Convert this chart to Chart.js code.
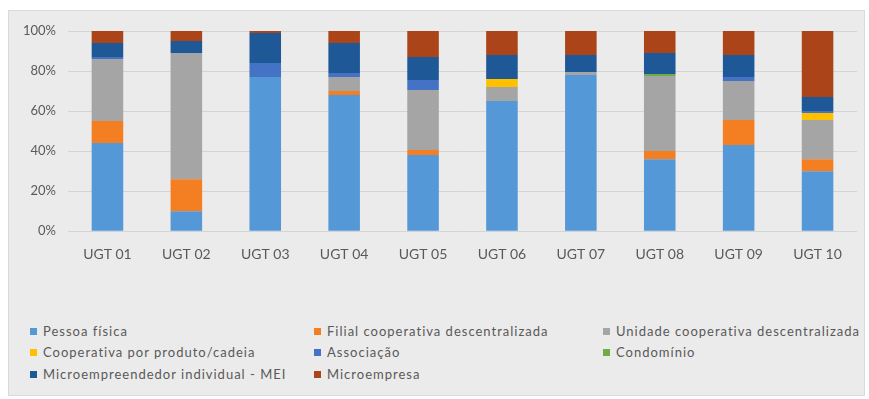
<!DOCTYPE html>
<html>
<head>
<meta charset="utf-8">
<script src="https://cdn.jsdelivr.net/npm/chart.js@4.4.0/dist/chart.umd.min.js"></script>
<style>
    html, body {
        margin: 0;
        padding: 0;
        background: #ffffff;
    }
    #wrap {
        position: relative;
        width: 869px;
        height: 399px;
        overflow: hidden;
    }
    #panel {
        position: absolute;
        left: 8px;
        top: 10px;
        width: 855px;
        height: 384px;
        background: #ebebeb;
        border: 1px solid #dadada;
    }
    #chartBox {
        position: absolute;
        left: 0;
        top: 0;
        width: 869px;
        height: 274px;
    }
    .legend-item {
        position: absolute;
        font-family: Lato, 'Open Sans', sans-serif;
        font-size: 13px;
        letter-spacing: 1px;
        color: #595959;
        line-height: 16px;
        white-space: nowrap;
    }
    .legend-item span.box {
        display: inline-block;
        width: 7px;
        height: 7px;
        margin-right: 6px;
        vertical-align: 1px;
    }
</style>
</head>
<body>
<div id="wrap">
    <div id="panel"></div>
    <div id="chartBox"><canvas id="ugtChart"></canvas></div>
    <div id="legend"></div>
</div>
<script>
// Categories and shares (%) per legal form
const categories = ['UGT 01', 'UGT 02', 'UGT 03', 'UGT 04', 'UGT 05', 'UGT 06', 'UGT 07', 'UGT 08', 'UGT 09', 'UGT 10'];
const pessoaFisica = [44, 10, 77, 68, 38, 65, 78, 36, 43, 30];
const filialCooperativa = [11, 16, 0, 2, 2.5, 0, 0, 4, 12.5, 6];
const unidadeCooperativa = [31, 63, 0, 7, 30, 7, 1.5, 37.5, 19.5, 19.5];
const cooperativaProduto = [0, 0, 0, 0, 0, 4, 0, 0, 0, 3.5];
const associacao = [1, 0, 7, 2, 5, 0, 0, 0, 2, 1];
const condominio = [0, 0, 0, 0, 0, 0, 0, 1, 0, 0];
const microempreendedor = [7, 6, 15, 15, 11.5, 12, 8.5, 10.5, 11, 7];
const microempresa = [6, 5, 1, 6, 13, 12, 12, 11, 12, 33];
const yTicks = [0, 20, 40, 60, 80, 100];

const seriesNames = [
    'Pessoa física',
    'Filial cooperativa descentralizada',
    'Unidade cooperativa descentralizada',
    'Cooperativa por produto/cadeia',
    'Associação',
    'Condomínio',
    'Microempreendedor individual - MEI',
    'Microempresa'
];
const seriesValues = [pessoaFisica, filialCooperativa, unidadeCooperativa, cooperativaProduto,
    associacao, condominio, microempreendedor, microempresa];
const seriesColors = ['#5498d8', '#f47e22', '#a5a5a5', '#ffc000', '#4472c4', '#70ad47', '#1f5896', '#ab4519'];

const textColor = '#595959';
const fontFamily = 'Lato, "Open Sans", sans-serif';

function buildDatasets() {
    return seriesNames.map((name, i) => ({
        label: name,
        data: seriesValues[i],
        backgroundColor: seriesColors[i],
        borderWidth: 0,
        barPercentage: 0.8,
        categoryPercentage: 0.5
    }));
}

// Legend drawn as three columns under the plot
function buildLegend() {
    const colX = [30, 314, 603];
    const rowY = [323, 344, 366];
    const legend = document.getElementById('legend');
    seriesNames.forEach((name, i) => {
        const item = document.createElement('div');
        item.className = 'legend-item';
        item.style.left = colX[i % 3] + 'px';
        item.style.top = rowY[Math.floor(i / 3)] + 'px';
        item.innerHTML = '<span class="box" style="background:' + seriesColors[i] + '"></span>' + name;
        legend.appendChild(item);
    });
}

function initChart() {
    const ctx = document.getElementById('ugtChart').getContext('2d');
    Chart.defaults.font.family = fontFamily;
    Chart.defaults.color = textColor;

    new Chart(ctx, {
        type: 'bar',
        data: {
            labels: categories,
            datasets: buildDatasets()
        },
        options: {
            responsive: true,
            maintainAspectRatio: false,
            animation: false,
            layout: {
                padding: { top: 31, right: 12, left: 0, bottom: 4 }
            },
            plugins: {
                legend: { display: false },
                tooltip: { enabled: false }
            },
            scales: {
                x: {
                    stacked: true,
                    grid: { display: false },
                    border: { display: false },
                    ticks: {
                        font: { size: 14 },
                        color: textColor,
                        padding: 7
                    }
                },
                y: {
                    stacked: true,
                    min: 0,
                    max: 100,
                    afterBuildTicks: scale => {
                        scale.ticks = yTicks.map(v => ({ value: v }));
                    },
                    afterFit: scale => {
                        scale.width = 68;
                    },
                    grid: {
                        color: '#d4d4d4',
                        lineWidth: 1,
                        drawTicks: false
                    },
                    border: { display: false },
                    ticks: {
                        font: { size: 13 },
                        color: textColor,
                        padding: 12,
                        callback: v => v + '%'
                    }
                }
            }
        }
    });
}

document.addEventListener('DOMContentLoaded', () => {
    buildLegend();
    initChart();
});
</script>
</body>
</html>
